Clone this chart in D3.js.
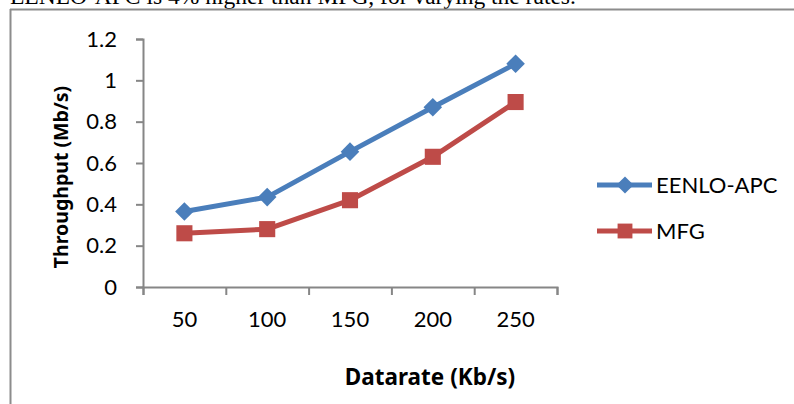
<!DOCTYPE html>
<html>
<head>
<meta charset="utf-8">
<script src="https://cdn.jsdelivr.net/npm/d3@7"></script>
<style>
  body { margin: 0; background: #fff; }
  svg text { font-family: Lato, "Noto Sans", sans-serif; fill: #000; }
  .title { font-family: "Noto Sans", Lato, sans-serif; font-weight: bold; }
</style>
</head>
<body>
<div id="chart"></div>
<script>
const width = 794;
const height = 404;

const datarates = ["50", "100", "150", "200", "250"];
const eenloApc = [0.365, 0.435, 0.655, 0.87, 1.08];
const mfg = [0.26, 0.28, 0.42, 0.63, 0.895];
const yTicks = [0, 0.2, 0.4, 0.6, 0.8, 1, 1.2];

const BLUE = "#4a7ebb";
const RED = "#be4b48";
const AXIS = "#868686";

const svg = d3.select("#chart")
  .append("svg")
  .attr("width", width)
  .attr("height", height);

// cut-off line of text above the figure, plus the frame
svg.append("text")
  .attr("x", 10)
  .attr("y", 4)
  .style("font-family", "'Liberation Serif', 'DejaVu Serif', serif")
  .style("font-size", "23.5px")
  .text("EENLO-APC is 4% higher than MFG, for varying the rates.");

svg.append("line")
  .attr("x1", 10).attr("x2", width)
  .attr("y1", 9.5).attr("y2", 9.5)
  .attr("stroke", "#8c8c8c").attr("stroke-width", 2);
svg.append("line")
  .attr("x1", 10.5).attr("x2", 10.5)
  .attr("y1", 9).attr("y2", height)
  .attr("stroke", "#8c8c8c").attr("stroke-width", 2);

const x = d3.scaleBand().domain(datarates).range([143, 557]);
const xEdge = d3.scaleLinear().domain([0, datarates.length]).range([143, 557]);
const y = d3.scaleLinear().domain([0, 1.2]).range([287, 39]);
const cx = d => x(d) + x.bandwidth() / 2;

// y axis
const yAxis = svg.append("g")
  .attr("transform", "translate(143,0)")
  .call(d3.axisLeft(y).tickValues(yTicks).tickSize(7).tickPadding(19)
    .tickFormat(d => d3.format("")(d)));
yAxis.selectAll("text").style("font-size", "22px");

// x axis: tick marks on category edges, labels on category centres
svg.append("g")
  .attr("transform", "translate(0,287)")
  .call(d3.axisBottom(xEdge).tickValues(d3.range(datarates.length + 1)).tickSize(8).tickFormat(""));
svg.append("g")
  .attr("transform", "translate(0,287)")
  .call(d3.axisBottom(x).tickSize(0).tickPadding(24))
  .call(g => g.select(".domain").remove())
  .selectAll("text").style("font-size", "22px");

svg.selectAll(".domain, .tick line")
  .attr("stroke", AXIS)
  .attr("stroke-width", 2);

// axis titles
svg.append("text")
  .attr("class", "title")
  .style("font-size", "19.5px")
  .attr("transform", "translate(68,177) rotate(-90)")
  .attr("text-anchor", "middle")
  .text("Throughput (Mb/s)");

svg.append("text")
  .attr("class", "title")
  .style("font-size", "22.5px")
  .attr("x", 430)
  .attr("y", 385)
  .attr("text-anchor", "middle")
  .text("Datarate (Kb/s)");

const series = [
  { name: "EENLO-APC", values: eenloApc, color: BLUE, symbol: d3.symbolDiamond2, size: 220 },
  { name: "MFG", values: mfg, color: RED, symbol: d3.symbolSquare2, size: 330 }
];

const line = d3.line()
  .x((d, i) => cx(datarates[i]))
  .y(d => y(d));

series.forEach(s => {
  svg.append("path")
    .datum(s.values)
    .attr("fill", "none")
    .attr("stroke", s.color)
    .attr("stroke-width", 5)
    .attr("stroke-linejoin", "round")
    .attr("d", line);

  svg.selectAll(null)
    .data(s.values)
    .enter()
    .append("path")
    .attr("transform", (d, i) => `translate(${cx(datarates[i])},${y(d)})`)
    .attr("d", d3.symbol().type(s.symbol).size(s.size))
    .attr("fill", s.color);
});

// legend
const legend = svg.append("g").attr("transform", "translate(597,185)");
series.forEach((s, i) => {
  const g = legend.append("g").attr("transform", `translate(0,${i * 46})`);
  g.append("line")
    .attr("x1", 0).attr("x2", 55)
    .attr("stroke", s.color)
    .attr("stroke-width", 5);
  g.append("path")
    .attr("transform", "translate(28,0)")
    .attr("d", d3.symbol().type(s.symbol).size(s.size * 0.85))
    .attr("fill", s.color);
  g.append("text")
    .attr("x", 59)
    .attr("dy", "0.35em")
    .style("font-size", "22px")
    .text(s.name);
});
</script>
</body>
</html>
